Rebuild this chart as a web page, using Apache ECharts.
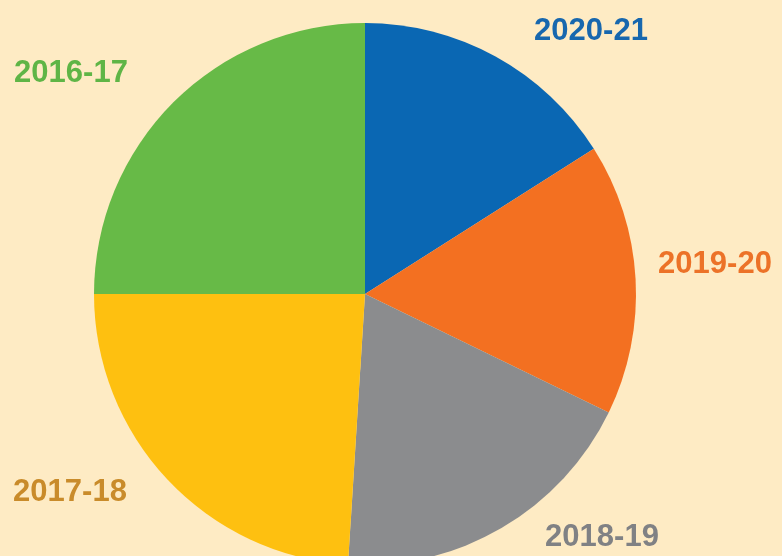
<!DOCTYPE html>
<html>
<head>
<meta charset="utf-8">
<script src="https://cdn.jsdelivr.net/npm/echarts@6/dist/echarts.min.js"></script>
<style>
html,body{margin:0;padding:0;background:#FEEBC4;}
#chart{width:782px;height:556px;}
</style>
</head>
<body>
<div id="chart"></div>
<script>
const categories = ['2020-21', '2019-20', '2018-19', '2017-18', '2016-17'];
const values = [16.0, 16.2, 18.8, 24.0, 25.0];
const sliceColors = ['#0A67B3', '#F37021', '#8B8C8E', '#FEC010', '#67BA47'];
const labelColors = ['#1767AE', '#EC7228', '#808184', '#C98B2A', '#5FB546'];
const labelPos = [[591, 31], [715, 264], [602, 537], [70, 492], [71, 73]];

const chart = echarts.init(document.getElementById('chart'));
chart.setOption({
  backgroundColor: '#FEEBC4',
  animation: false,
  series: [{
    type: 'pie',
    center: [365, 294],
    radius: 271,
    startAngle: 90,
    clockwise: true,
    data: categories.map((c, i) => ({
      name: c,
      value: values[i],
      itemStyle: { color: sliceColors[i] },
      label: { color: labelColors[i] }
    })),
    itemStyle: { borderWidth: 0 },
    label: {
      show: true,
      position: 'outside',
      formatter: '{b}',
      fontFamily: 'Liberation Sans',
      fontWeight: 'bold',
      fontSize: 31,
      overflow: 'none',
      width: 200
    },
    labelLine: { show: false },
    labelLayout: function (p) {
      const pos = labelPos[p.dataIndex];
      return { x: pos[0], y: pos[1], align: 'center', verticalAlign: 'middle', hideOverlap: false };
    },
    emphasis: { disabled: true }
  }]
});
</script>
</body>
</html>
